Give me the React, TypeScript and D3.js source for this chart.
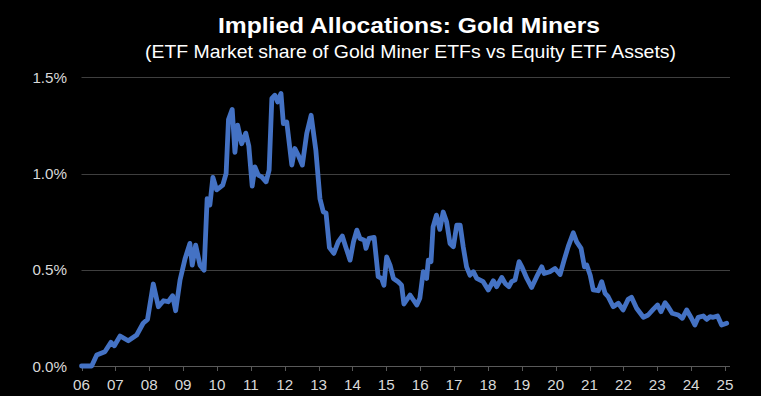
import React from "react";
import * as d3 from "d3";

const dates: number[] = [
  2006.0, 2006.3, 2006.45, 2006.69, 2006.87, 2006.97, 2007.14, 2007.38, 2007.63, 2007.82, 2007.95,
  2008.12, 2008.27, 2008.42, 2008.56, 2008.69, 2008.78, 2008.91, 2009.06, 2009.2, 2009.27, 2009.37,
  2009.5, 2009.62, 2009.71, 2009.79, 2009.88, 2009.99, 2010.17, 2010.27, 2010.34, 2010.45, 2010.53,
  2010.61, 2010.73, 2010.85, 2010.94, 2011.04, 2011.12, 2011.22, 2011.32, 2011.45, 2011.54, 2011.62,
  2011.71, 2011.79, 2011.89, 2011.96, 2012.06, 2012.21, 2012.3, 2012.4, 2012.52, 2012.65, 2012.78,
  2012.92, 2013.04, 2013.14, 2013.22, 2013.32, 2013.45, 2013.58, 2013.7, 2013.8, 2013.93, 2014.03,
  2014.13, 2014.22, 2014.35, 2014.4, 2014.49, 2014.64, 2014.76, 2014.86, 2014.93, 2015.01, 2015.11,
  2015.21, 2015.35, 2015.45, 2015.52, 2015.7, 2015.8, 2015.9, 2015.99, 2016.09, 2016.19, 2016.24,
  2016.32, 2016.38, 2016.48, 2016.58, 2016.68, 2016.78, 2016.88, 2016.98, 2017.08, 2017.18, 2017.27,
  2017.37, 2017.47, 2017.57, 2017.67, 2017.86, 2018.01, 2018.16, 2018.26, 2018.41, 2018.51, 2018.62,
  2018.7, 2018.8, 2018.92, 2019.01, 2019.15, 2019.29, 2019.44, 2019.59, 2019.66, 2019.83, 2019.98,
  2020.13, 2020.25, 2020.37, 2020.52, 2020.62, 2020.75, 2020.85, 2020.92, 2021.02, 2021.11, 2021.26,
  2021.36, 2021.46, 2021.55, 2021.7, 2021.85, 2021.99, 2022.14, 2022.24, 2022.39, 2022.59, 2022.73,
  2022.88, 2023.01, 2023.11, 2023.23, 2023.32, 2023.44, 2023.62, 2023.74, 2023.87, 2024.01, 2024.11,
  2024.21, 2024.36, 2024.46, 2024.56, 2024.65, 2024.78, 2024.9, 2025.05,
];

const shares: number[] = [
  0, 0, 0.057, 0.074, 0.123, 0.105, 0.156, 0.131, 0.161, 0.222, 0.242,
  0.426, 0.308, 0.339, 0.334, 0.365, 0.287, 0.447, 0.559, 0.637, 0.524, 0.628,
  0.524, 0.498, 0.87, 0.836, 0.98, 0.915, 0.94, 1.0, 1.28, 1.333, 1.11,
  1.251, 1.155, 1.21, 1.143, 0.935, 1.035, 0.992, 0.983, 0.957, 1.018, 1.39,
  1.407, 1.372, 1.416, 1.26, 1.268, 1.044, 1.13, 1.095, 1.044, 1.208, 1.303,
  1.12, 0.87, 0.8, 0.795, 0.615, 0.585, 0.645, 0.675, 0.62, 0.55, 0.645,
  0.706, 0.663, 0.654, 0.611, 0.663, 0.668, 0.464, 0.455, 0.42, 0.567, 0.524,
  0.455, 0.438, 0.42, 0.322, 0.369, 0.343, 0.317, 0.352, 0.49, 0.455, 0.55,
  0.542, 0.723, 0.784, 0.71, 0.8, 0.749, 0.637, 0.62, 0.732, 0.732, 0.62,
  0.515, 0.472, 0.49, 0.455, 0.438, 0.395, 0.443, 0.412, 0.46, 0.429, 0.412,
  0.438, 0.447, 0.542, 0.512, 0.455, 0.408, 0.464, 0.515, 0.481, 0.49, 0.507,
  0.475, 0.55, 0.62, 0.692, 0.645, 0.611, 0.515, 0.524, 0.472, 0.395, 0.391,
  0.438, 0.377, 0.36, 0.308, 0.326, 0.291, 0.346, 0.357, 0.3, 0.253, 0.265,
  0.294, 0.317, 0.282, 0.329, 0.308, 0.274, 0.265, 0.248, 0.291, 0.248, 0.213,
  0.253, 0.26, 0.242, 0.256, 0.253, 0.26, 0.213, 0.222,
];

const yearTicks: number[] = [
  2006, 2007, 2008, 2009, 2010, 2011, 2012, 2013, 2014, 2015, 2016, 2017, 2018, 2019, 2020,
  2021, 2022, 2023, 2024, 2025,
];
const yTicks: number[] = [0, 0.5, 1.0, 1.5];

const title = "Implied Allocations: Gold Miners";
const subtitle = "(ETF Market share of Gold Miner ETFs vs Equity ETF Assets)";

const W = 761;
const H = 396;
const plotLeft = 81.5;
const plotRight = 730;

export default function App() {
  const x = d3.scaleLinear().domain([2006, 2025]).range([81.5, 725]);
  const y = d3.scaleLinear().domain([0, 1.5]).range([366, 77.3]);
  const data = dates.map((d, i) => [d, shares[i]] as [number, number]);
  const line = d3
    .line<[number, number]>()
    .x((d) => x(d[0]))
    .y((d) => y(d[1]))
    .curve(d3.curveLinear);

  const font = "'Liberation Sans', Arial, sans-serif";

  return (
    <svg
      width={W}
      height={H}
      style={{ position: "absolute", left: 0, top: 0, background: "#000" }}
    >
      <rect x={0} y={0} width={W} height={H} fill="#000" />
      <text
        x={409}
        y={33}
        textAnchor="middle"
        fill="#fff"
        fontFamily={font}
        fontWeight="bold"
        fontSize={22}
        textLength={382}
        lengthAdjust="spacingAndGlyphs"
      >
        {title}
      </text>
      <text
        x={410.5}
        y={57.5}
        textAnchor="middle"
        fill="#fff"
        fontFamily={font}
        fontSize={19}
        textLength={531}
        lengthAdjust="spacingAndGlyphs"
      >
        {subtitle}
      </text>
      {yTicks
        .filter((t) => t > 0)
        .map((t) => (
          <line
            key={"g" + t}
            x1={plotLeft}
            x2={plotRight}
            y1={Math.round(y(t)) + 0.5}
            y2={Math.round(y(t)) + 0.5}
            stroke="#3f3f3f"
            strokeWidth={1}
          />
        ))}
      <line
        x1={plotLeft}
        x2={plotRight}
        y1={Math.round(y(0)) + 0.5}
        y2={Math.round(y(0)) + 0.5}
        stroke="#595959"
        strokeWidth={1}
      />
      {yearTicks.map((t) => (
        <line
          key={"t" + t}
          x1={Math.round(x(t)) + 0.5}
          x2={Math.round(x(t)) + 0.5}
          y1={y(0)}
          y2={y(0) + 5}
          stroke="#595959"
          strokeWidth={1}
        />
      ))}
      {yTicks.map((t) => (
        <text
          key={"yl" + t}
          x={67}
          y={y(t) + 5.6}
          textAnchor="end"
          fill="#d9d9d9"
          fontFamily={font}
          fontSize={15.2}
        >
          {d3.format(".1f")(t) + "%"}
        </text>
      ))}
      {yearTicks.map((t) => (
        <text
          key={"xl" + t}
          x={x(t)}
          y={389.5}
          textAnchor="middle"
          fill="#d9d9d9"
          fontFamily={font}
          fontSize={15.2}
        >
          {String(t % 100).padStart(2, "0")}
        </text>
      ))}
      <path
        d={line(data) || ""}
        fill="none"
        stroke="#4472c4"
        strokeWidth={4.8}
        strokeLinejoin="round"
        strokeLinecap="round"
      />
    </svg>
  );
}
